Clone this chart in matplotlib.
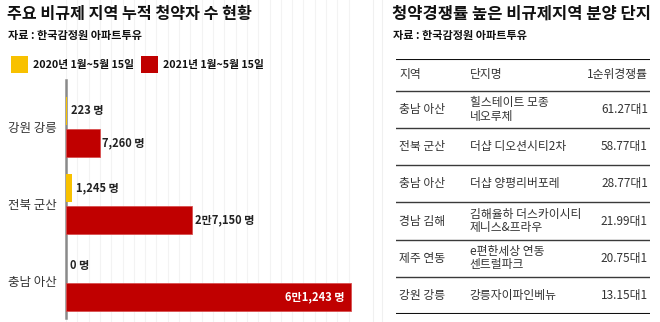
import matplotlib
matplotlib.use("Agg")
import matplotlib.pyplot as plt
from matplotlib.ticker import MultipleLocator
from matplotlib.patches import Rectangle

plt.rcParams['font.family'] = ['Noto Sans CJK KR', 'DejaVu Sans']

# ---------------- data ----------------
title_left = "주요 비규제 지역 누적 청약자 수 현황"
title_right = "청약경쟁률 높은 비규제지역 분양 단지"
source = "자료 : 한국감정원 아파트투유"

regions = ["강원 강릉", "전북 군산", "충남 아산"]
series_names = ["2020년 1월~5월 15일", "2021년 1월~5월 15일"]
values_2020 = [223, 1245, 0]
values_2021 = [7260, 27150, 61243]

tbl_header = ["지역", "단지명", "1순위경쟁률"]
tbl_region = ["충남 아산", "전북 군산", "충남 아산", "경남 김해", "제주 연동", "강원 강릉"]
tbl_complex = ["힐스테이트 모종\n네오루체", "더샵 디오션시티2차", "더샵 양평리버포레",
               "김해율하 더스카이시티\n제니스&프라우", "e편한세상 연동\n센트럴파크", "강릉자이파인베뉴"]
tbl_rate = [61.27, 58.77, 28.77, 21.99, 20.75, 13.15]

# ---------------- style ----------------
YELLOW = "#f8c100"
RED = "#c00000"
TXT = "#222222"

def fmt_people(v):
    man, rest = divmod(int(v), 10000)
    if man:
        return f"{man}만{rest:,} 명"
    return f"{rest:,} 명"

W, H = 660, 322
fig = plt.figure(figsize=(W / 100, H / 100), dpi=100)
fig.patch.set_facecolor("white")

def fx(px):
    return px / W

def fy(py):
    return 1 - py / H

# background faint grid (full height, left panel)
axbg = fig.add_axes([fx(66), 0, fx(360) - fx(66), 1])
xmax = 61243 * (360 - 66) / 285
axbg.set_xlim(0, xmax)
axbg.set_ylim(0, 1)
axbg.xaxis.set_major_locator(MultipleLocator(2430))
axbg.grid(axis="x", color="#f3f3f3", linewidth=0.8)
axbg.set_yticks([])
axbg.tick_params(axis="x", length=0, labelbottom=False)
for s in axbg.spines.values():
    s.set_visible(False)
axbg.set_zorder(0)
axbg.patch.set_alpha(0)

# ---------------- left bar chart ----------------
ax = fig.add_axes([fx(66), fy(318), fx(360) - fx(66), fy(80) - fy(318)])
ax.patch.set_alpha(0)
ax.set_xlim(0, xmax)
ax.set_ylim(2.48, -0.61)
h = 0.375
off = 0.208
ys = list(range(len(regions)))
ax.barh([y - off for y in ys], values_2020, height=h, color=YELLOW, edgecolor="none", zorder=3)
ax.barh([y + off for y in ys], values_2021, height=h, color=RED, edgecolor="#d85050", linewidth=0.6, zorder=3)

for y, v in zip(ys, values_2020):
    ax.text(v + 900, y - off, fmt_people(v), va="center", ha="left", fontsize=8,
            fontweight="bold", color=TXT)
for y, v in zip(ys, values_2021):
    if v > 0.8 * xmax:
        ax.text(v - 1300, y + off, fmt_people(v), va="center", ha="right", fontsize=8,
                fontweight="bold", color="white", zorder=4)
    else:
        ax.text(v + 500, y + off, fmt_people(v), va="center", ha="left", fontsize=8,
                fontweight="bold", color=TXT)

ax.set_yticks(ys)
ax.set_yticklabels(regions, fontsize=9, color="#333333")
ax.tick_params(axis="y", length=0, pad=7)
ax.set_xticks([])
for k in ["top", "right", "bottom"]:
    ax.spines[k].set_visible(False)
ax.spines["left"].set_color("#8a8a8a")
ax.spines["left"].set_linewidth(1.8)

# titles
fig.text(fx(7), fy(14), title_left, fontsize=11.6, fontweight="bold", color="#111111", va="center", ha="left")
fig.text(fx(8), fy(36), source, fontsize=8, fontweight="bold", color="#111111", va="center", ha="left")

# legend
lx = [11, 141]
for i, (name, col) in enumerate(zip(series_names, [YELLOW, RED])):
    fig.patches.append(Rectangle((fx(lx[i]), fy(73)), fx(17), fy(56) - fy(73),
                                 transform=fig.transFigure, facecolor=col, edgecolor="none"))
    fig.text(fx(lx[i] + 22), fy(65), name, fontsize=7.7, fontweight="bold", color="#111111",
             va="center", ha="left")

# ---------------- right table ----------------
fig.text(fx(392), fy(14), title_right, fontsize=11.9, fontweight="bold", color="#111111", va="center", ha="left")
fig.text(fx(393), fy(36), source, fontsize=8, fontweight="bold", color="#111111", va="center", ha="left")

# faint vertical decorative lines
for xl in (373, 382):
    fig.add_artist(plt.Line2D([fx(xl), fx(xl)], [0, 1], transform=fig.transFigure,
                              color="#f0f0f0", linewidth=0.8))

axt = fig.add_axes([fx(396), fy(314), fx(650) - fx(396), fy(59) - fy(314)])
axt.axis("off")
n = len(tbl_region)
hdr = 32 / 37.2
axt.set_xlim(0, 1)
axt.set_ylim(n, -hdr)
axt.axhline(-hdr, color="#111111", linewidth=1.5)
axt.axhline(n, color="#111111", linewidth=1.5)
for i in range(n):
    axt.axhline(i, color="#3a3a3a", linewidth=1.0)

colx = [0.012, 0.29, 0.992]
colha = ["left", "left", "right"]
for j, t in enumerate(tbl_header):
    axt.text(colx[j], -hdr / 2, t, ha=colha[j], va="center", fontsize=8.5, color="#333333")
for i in range(n):
    yc = i + 0.5
    axt.text(colx[0], yc, tbl_region[i], ha="left", va="center", fontsize=8.5, color="#333333")
    axt.text(colx[1], yc, tbl_complex[i], ha="left", va="center", fontsize=8.5, color="#333333",
             linespacing=1.05)
    axt.text(colx[2], yc, f"{tbl_rate[i]:.2f}대1", ha="right", va="center", fontsize=8.5, color="#333333")

fig.savefig("out.png", dpi=100, facecolor="white")
